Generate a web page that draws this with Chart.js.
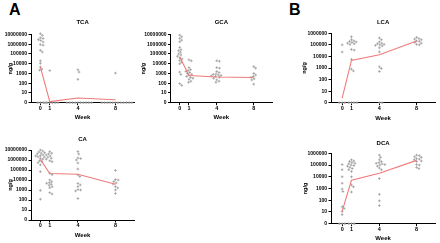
<!DOCTYPE html>
<html><head><meta charset="utf-8">
<script src="https://cdn.jsdelivr.net/npm/chart.js@4.4.1/dist/chart.umd.min.js"></script>
<style>
body{margin:0;background:#fff;width:440px;height:243px;position:relative;overflow:hidden;font-family:"Liberation Sans",Arial,sans-serif}
canvas{position:absolute}
.lab{position:absolute;font-weight:bold;font-size:16px;line-height:16px;color:#000}
</style></head><body>
<div class="lab" style="left:9px;top:2px">A</div>
<div class="lab" style="left:289px;top:2px">B</div>
<script>
// ---- data (ng/g); 0 = not detected ----
const weeks = [0, 1, 4, 8];
const yTickExponents = [0, 1, 2, 3, 4, 5, 6, 7];

const tcaWeek0 = [1.2e7, 8e6, 4.6e6, 3.9e6, 3e6, 2.4e6, 1.7e6, 9.3e5, 8e5, 2.4e5, 1.6e5, 2e4, 1.1e4, 4600, 2800, 2200, 0, 0, 0, 0];
const tcaWeek1 = [2000, 0, 0, 0, 0, 0, 0];
const tcaWeek4 = [2400, 1400, 250, 0, 0, 0, 0, 0, 0, 0, 0, 0, 0];
const tcaWeek8 = [1100, 0, 0, 0, 0, 0, 0, 0, 0, 0, 0, 0, 0];
const tcaMedian = [4500, 1.3, 3, 2];

const gcaWeek0 = [8.5e6, 5.8e6, 3.9e6, 2.6e6, 1.8e6, 4.8e5, 2.8e5, 2.2e5, 1.5e5, 1e5, 7.9e4, 5.8e4, 4e4, 3.1e4, 2.1e4, 1.4e4, 9800, 1400, 800, 90, 60];
const gcaWeek1 = [2.5e4, 2e4, 4000, 2500, 2000, 1600, 1250, 1000, 800, 630, 500, 400, 320, 250, 160, 125];
const gcaWeek4 = [2e4, 1.8e4, 4000, 3500, 1600, 1250, 900, 800, 700, 630, 560, 500, 400, 320, 220, 160, 125];
const gcaWeek8 = [5000, 3500, 1000, 700, 500, 400, 280, 220, 80];
const gcaMedian = [50000, 630, 440, 380];

const lcaWeek0 = [1e5, 2.4e4, 0, 0, 0];
const lcaWeek1 = [5e5, 2.8e5, 2.2e5, 2e5, 1.8e5, 1.6e5, 1.4e5, 1.25e5, 1.1e5, 4e4, 3.5e4, 5600, 800, 560, 0, 0, 0, 0];
const lcaWeek4 = [4e5, 2.8e5, 1.8e5, 1.4e5, 1.25e5, 1.1e5, 1e5, 9e4, 8e4, 5.6e4, 2.5e4, 1250, 900, 500, 0, 0];
const lcaWeek8 = [4.5e5, 3.5e5, 3.2e5, 2.8e5, 2.2e5, 2e5, 1.6e5, 1.4e5, 1.1e5, 1e5];
const lcaMedian = [2.5, 4500, 14000, 220000];

const caWeek0 = [1e7, 8e6, 6.3e6, 5.4e6, 4.7e6, 4e6, 3.2e6, 2.7e6, 2.5e6, 2.1e6, 1.9e6, 1.5e6, 1.2e6, 8.5e5, 6.8e5, 5.4e5, 3.2e5, 6.8e4, 900, 120];
const caWeek1 = [6.8e6, 4.7e6, 4e6, 3.2e6, 2.5e6, 1.9e6, 1.5e6, 1.2e6, 8.5e5, 6.8e5, 4.7e4, 3.4e4, 1e4, 6800, 5400, 4700, 3700, 3000, 2100, 1700, 540, 400];
const caWeek4 = [7e6, 4e6, 1.6e6, 1.4e6, 1e6, 5e5, 1.25e5, 3.2e4, 2.2e4, 4500, 3200, 2200, 1100, 1000, 800, 140];
const caWeek8 = [9e4, 1.1e4, 1e4, 7000, 5000, 4000, 2200, 1600, 1000, 450];
const caMedian = [1.15e6, 45000, 38000, 3700];

const dcaWeek0 = [1.1e5, 4e4, 1e4, 2800, 900, 560, 28, 20, 11, 6, 0, 0, 0];
const dcaWeek1 = [2.8e5, 2.2e5, 2e5, 1.6e5, 1.4e5, 1.25e5, 1e5, 9e4, 8e4, 6.3e4, 5e4, 4e4, 2.8e4, 1e4, 2000, 1400, 500, 0, 0, 0];
const dcaWeek4 = [7e5, 4.5e5, 2.8e5, 2e5, 1.6e5, 1.4e5, 1.25e5, 1.1e5, 1e5, 8e4, 5.6e4, 4e4, 7000, 320, 90, 35];
const dcaWeek8 = [7e5, 6.3e5, 5e5, 4.5e5, 3.5e5, 3.2e5, 2.8e5, 2.2e5, 2e5, 1.1e5, 1e5, 6.3e4, 5e4];
const dcaMedian = [12, 5000, 20000, 250000];

// ---- layout (pixels) ----
const FONT = '"Liberation Sans", Arial, sans-serif';
const panels = [
  {title:'TCA', groups:[tcaWeek0,tcaWeek1,tcaWeek4,tcaWeek8], median:tcaMedian, L:0, plotLeft:31, plotRight:137, plotTop:34.5, plotBottom:102.7, titleY:22, weekY:117, yTitleX:10.5, xMin:-1, yMax:7},
  {title:'GCA', groups:[gcaWeek0,gcaWeek1,gcaWeek4,gcaWeek8], median:gcaMedian, L:140, plotLeft:170.5, plotRight:275, plotTop:34.5, plotBottom:102.7, titleY:22, weekY:117.5, yTitleX:143.5, xMin:-1, yMax:7},
  {title:'LCA', groups:[lcaWeek0,lcaWeek1,lcaWeek4,lcaWeek8], median:lcaMedian, L:298, plotLeft:331, plotRight:437.5, plotTop:33.3, plotBottom:102.7, titleY:22, weekY:118, yTitleX:304.5, xMin:-1.2, yMax:6},
  {title:'CA', groups:[caWeek0,caWeek1,caWeek4,caWeek8], median:caMedian, L:0, plotLeft:31, plotRight:137, plotTop:150, plotBottom:220, titleY:139, weekY:235, yTitleX:10.5, xMin:-1, yMax:7},
  {title:'DCA', groups:[dcaWeek0,dcaWeek1,dcaWeek4,dcaWeek8], median:dcaMedian, L:298, plotLeft:331, plotRight:437.5, plotTop:153.3, plotBottom:223.7, titleY:143.3, weekY:238.5, yTitleX:305, xMin:-1.2, yMax:6}
];

const toPos = v => (v > 1 ? Math.log10(v) : 0);

function swarm(vals, week, pxDec, pxWk, dmin) {
  const ys = vals.map(toPos);
  const idx = ys.map((_, i) => i).sort((a, b) => ys[b] - ys[a]);
  const placed = [], out = [];
  for (const i of idx) {
    const y = ys[i];
    let ox = 0;
    for (let k = 0; k < 400; k++) {
      const c = (k % 2 === 1 ? 1 : -1) * Math.ceil(k / 2) * 0.4;
      if (placed.every(p => Math.hypot(c - p.ox, (y - p.y) * pxDec) >= dmin)) { ox = c; break; }
    }
    placed.push({ox, y});
    out.push({x: week + ox / pxWk, y});
  }
  return out;
}

panels.forEach(p => {
  const cTop = Math.round(p.titleY - 8);
  const cBottom = Math.round(p.weekY + 5);
  const W = Math.round(p.plotRight + 2 - p.L);
  const H = cBottom - cTop;
  const cv = document.createElement('canvas');
  cv.width = W; cv.height = H;
  cv.style.left = p.L + 'px'; cv.style.top = cTop + 'px';
  cv.style.width = W + 'px'; cv.style.height = H + 'px';
  document.body.appendChild(cv);

  const titleLH = 6 * 1.2;
  const tPadTop = p.titleY - cTop - titleLH / 2;
  const tPadBot = p.plotTop - cTop - titleLH - tPadTop;
  const xAxisH = cBottom - p.plotBottom;
  const weekPadBot = cBottom - p.weekY - 3.6;
  const yAxisW = p.plotLeft - p.L;
  const pxDec = (p.plotBottom - p.plotTop) / p.yMax;
  const pxWk = (p.plotRight - p.plotLeft) / (10 - p.xMin);

  let pts = [];
  p.groups.forEach((g, i) => { pts = pts.concat(swarm(g, weeks[i], pxDec, pxWk, 2.5)); });

  new Chart(cv, {
    type: 'scatter',
    data: {
      datasets: [
        {data: weeks.map((w, i) => ({x: w, y: toPos(p.median[i])})), showLine: true,
         borderColor: '#ef7b7b', borderWidth: 1.1, pointRadius: 0, fill: false, tension: 0},
        {data: pts, showLine: false, pointStyle: 'cross', pointRadius: 1.3,
         pointBorderColor: '#9a9a9a', pointBackgroundColor: '#9a9a9a', pointBorderWidth: 0.8, clip: false}
      ]
    },
    options: {
      responsive: false, animation: false, events: [],
      layout: {padding: {left: 0, right: 2, top: 0, bottom: 0}},
      plugins: {
        legend: {display: false}, tooltip: {enabled: false},
        title: {display: true, text: p.title, fullSize: false, color: '#000',
                font: {family: FONT, size: 6, weight: 'bold', lineHeight: 1.2},
                padding: {top: tPadTop, bottom: tPadBot}}
      },
      scales: {
        x: {
          type: 'linear', min: p.xMin, max: 10,
          afterBuildTicks: s => { s.ticks = weeks.map(v => ({value: v})); },
          afterFit: s => { s.height = xAxisH; },
          ticks: {color: '#000', font: {family: FONT, size: 5.5, weight: 'bold'}, padding: -0.5, autoSkip: false, maxRotation: 0},
          grid: {display: true, drawOnChartArea: false, drawTicks: true, tickLength: 2.5, color: '#000', lineWidth: 1},
          border: {display: true, color: '#000', width: 1},
          title: {display: true, text: 'Week', color: '#000', font: {family: FONT, size: 6, weight: 'bold', lineHeight: 1.2}, padding: {top: 0, bottom: weekPadBot}}
        },
        y: {
          type: 'linear', min: 0, max: p.yMax,
          afterBuildTicks: s => { s.ticks = yTickExponents.filter(e => e <= p.yMax).map(v => ({value: v})); },
          afterFit: s => { s.width = yAxisW; },
          ticks: {color: '#000', font: {family: FONT, size: 5, weight: 'bold'}, padding: 1.5, autoSkip: false,
                  callback: v => (v === 0 ? '0' : String(Math.pow(10, v)))},
          grid: {display: true, drawOnChartArea: false, drawTicks: true, tickLength: 2.5, color: '#000', lineWidth: 1},
          border: {display: true, color: '#000', width: 1},
          title: {display: true, text: 'ng/g', color: '#000', font: {family: FONT, size: 5.5, weight: 'bold', lineHeight: 1.2}, padding: {top: p.yTitleX - p.L - 3.3, bottom: 0}}
        }
      }
    }
  });
});
</script>
</body></html>
